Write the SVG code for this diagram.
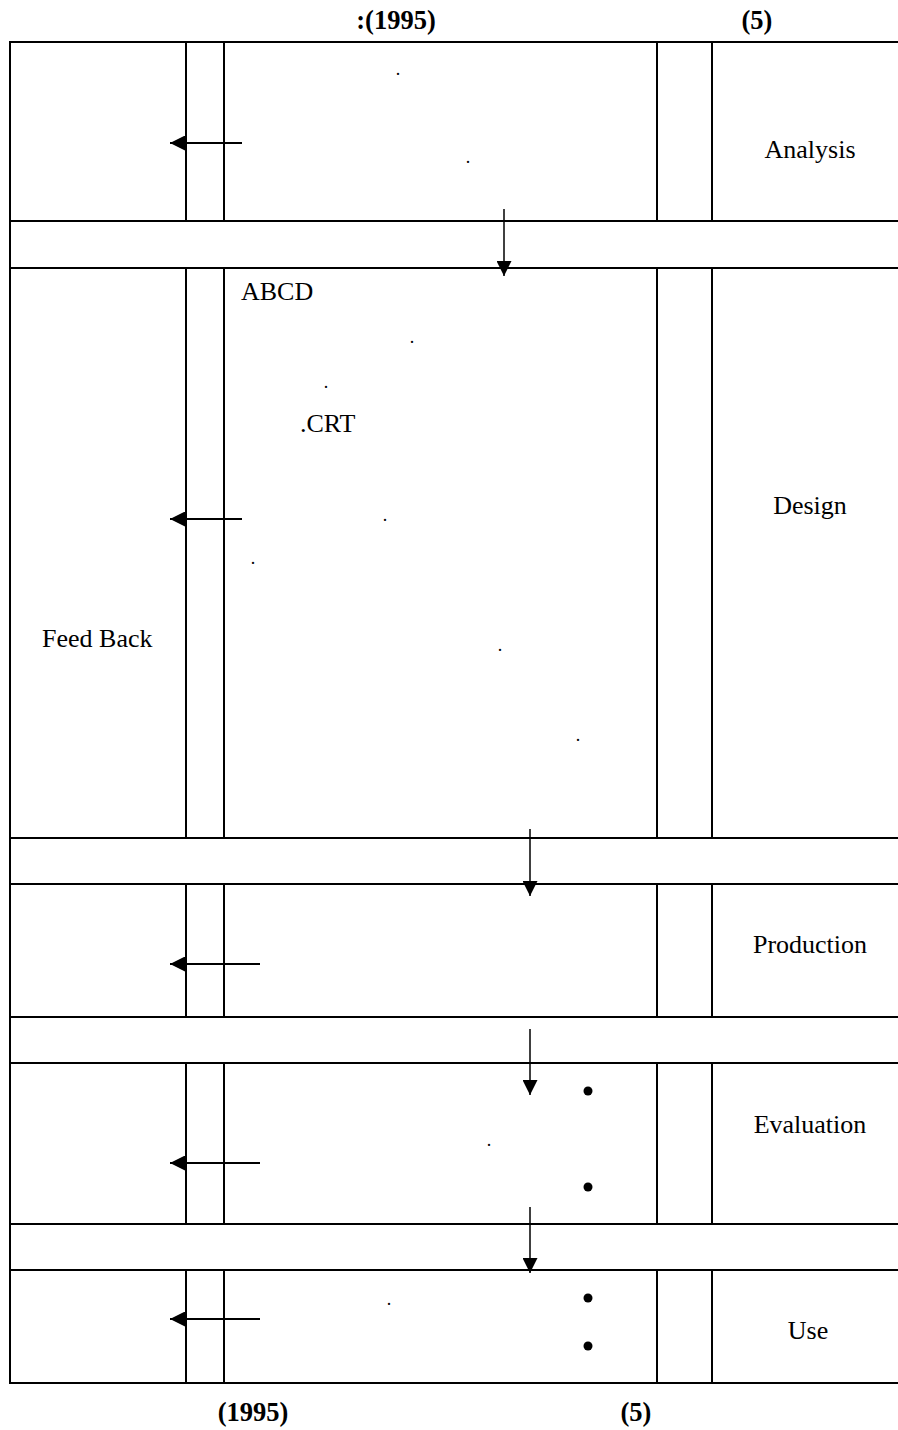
<svg xmlns="http://www.w3.org/2000/svg" width="898" height="1430" viewBox="0 0 898 1430">
<defs>
<style>
.cell{fill:#fff;stroke:#000;stroke-width:2}
.col{stroke:#000;stroke-width:2}
.lbl{font-family:"Liberation Serif","Times New Roman",serif;font-size:26px;fill:#000}
.ttl{font-family:"Liberation Serif","Times New Roman",serif;font-size:26.5px;font-weight:bold;fill:#000}
.dot{font-family:"Liberation Serif","Times New Roman",serif;font-size:18px;fill:#000;text-anchor:middle}
.fb{stroke:#000;stroke-width:2;fill:none}
.dn{stroke:#000;stroke-width:1.5;fill:none}
</style>
<marker id="hd" viewBox="0 0 15 15" refX="15" refY="7.5" markerWidth="15" markerHeight="15" markerUnits="userSpaceOnUse" orient="auto">
<path d="M0,0 L15,7.5 L0,15 Z" fill="#000"/>
</marker>
</defs>
<rect width="898" height="1430" fill="#fff"/>

<g id="titles">
<text class="ttl" x="396" y="29" text-anchor="middle">:(1995)</text>
<text class="ttl" x="757" y="29" text-anchor="middle">(5)</text>
<text class="ttl" x="253" y="1421" text-anchor="middle">(1995)</text>
<text class="ttl" x="636" y="1421" text-anchor="middle">(5)</text>
</g>

<g id="analysis">
<rect class="cell" x="10" y="42" width="892" height="179"/>
<line class="col" x1="186" y1="42" x2="186" y2="221"/>
<line class="col" x1="224" y1="42" x2="224" y2="221"/>
<line class="col" x1="657" y1="42" x2="657" y2="221"/>
<line class="col" x1="712" y1="42" x2="712" y2="221"/>
<text class="lbl" x="810" y="158" text-anchor="middle">Analysis</text>
<text class="dot" x="398" y="75">.</text>
<text class="dot" x="468" y="163">.</text>
</g>

<g id="gap1"><rect class="cell" x="10" y="221" width="892" height="47"/></g>

<g id="design">
<rect class="cell" x="10" y="268" width="892" height="570"/>
<line class="col" x1="186" y1="268" x2="186" y2="838"/>
<line class="col" x1="224" y1="268" x2="224" y2="838"/>
<line class="col" x1="657" y1="268" x2="657" y2="838"/>
<line class="col" x1="712" y1="268" x2="712" y2="838"/>
<text class="lbl" x="241" y="300">ABCD</text>
<text class="dot" x="412" y="343">.</text>
<text class="dot" x="326" y="388">.</text>
<text class="lbl" x="300" y="432">.CRT</text>
<text class="dot" x="385" y="521">.</text>
<text class="dot" x="253" y="564">.</text>
<text class="dot" x="500" y="651">.</text>
<text class="dot" x="578" y="741">.</text>
<text class="lbl" x="810" y="514" text-anchor="middle">Design</text>
<text class="lbl" x="42" y="647">Feed Back</text>
</g>

<g id="gap2"><rect class="cell" x="10" y="838" width="892" height="46"/></g>

<g id="production">
<rect class="cell" x="10" y="884" width="892" height="133"/>
<line class="col" x1="186" y1="884" x2="186" y2="1017"/>
<line class="col" x1="224" y1="884" x2="224" y2="1017"/>
<line class="col" x1="657" y1="884" x2="657" y2="1017"/>
<line class="col" x1="712" y1="884" x2="712" y2="1017"/>
<text class="lbl" x="810" y="953" text-anchor="middle">Production</text>
</g>

<g id="gap3"><rect class="cell" x="10" y="1017" width="892" height="46"/></g>

<g id="evaluation">
<rect class="cell" x="10" y="1063" width="892" height="161"/>
<line class="col" x1="186" y1="1063" x2="186" y2="1224"/>
<line class="col" x1="224" y1="1063" x2="224" y2="1224"/>
<line class="col" x1="657" y1="1063" x2="657" y2="1224"/>
<line class="col" x1="712" y1="1063" x2="712" y2="1224"/>
<circle cx="588" cy="1091" r="4.5"/>
<circle cx="588" cy="1187" r="4.5"/>
<text class="dot" x="489" y="1146">.</text>
<text class="lbl" x="810" y="1133" text-anchor="middle">Evaluation</text>
</g>

<g id="gap4"><rect class="cell" x="10" y="1224" width="892" height="46"/></g>

<g id="use">
<rect class="cell" x="10" y="1270" width="892" height="113"/>
<line class="col" x1="186" y1="1270" x2="186" y2="1383"/>
<line class="col" x1="224" y1="1270" x2="224" y2="1383"/>
<line class="col" x1="657" y1="1270" x2="657" y2="1383"/>
<line class="col" x1="712" y1="1270" x2="712" y2="1383"/>
<circle cx="588" cy="1298" r="4.5"/>
<circle cx="588" cy="1346" r="4.5"/>
<text class="dot" x="389" y="1305">.</text>
<text class="lbl" x="808" y="1339" text-anchor="middle">Use</text>
</g>

<g id="connectors">
<line class="fb" x1="242" y1="143" x2="170" y2="143" marker-end="url(#hd)"/>
<line class="fb" x1="242" y1="519" x2="170" y2="519" marker-end="url(#hd)"/>
<line class="fb" x1="260" y1="964" x2="170" y2="964" marker-end="url(#hd)"/>
<line class="fb" x1="260" y1="1163" x2="170" y2="1163" marker-end="url(#hd)"/>
<line class="fb" x1="260" y1="1319" x2="170" y2="1319" marker-end="url(#hd)"/>
<line class="dn" x1="504" y1="209" x2="504" y2="276" marker-end="url(#hd)"/>
<line class="dn" x1="530" y1="829" x2="530" y2="896" marker-end="url(#hd)"/>
<line class="dn" x1="530" y1="1029" x2="530" y2="1095" marker-end="url(#hd)"/>
<line class="dn" x1="530" y1="1207" x2="530" y2="1273" marker-end="url(#hd)"/>
</g>
</svg>
